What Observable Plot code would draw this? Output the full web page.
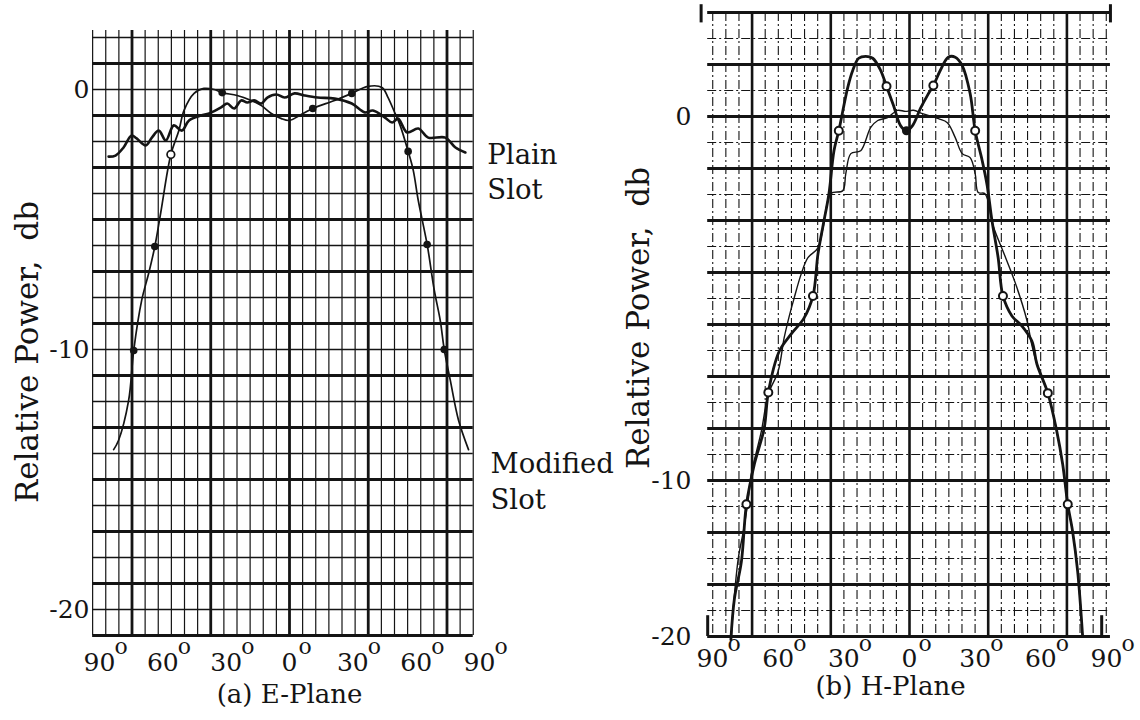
<!DOCTYPE html>
<html>
<head>
<meta charset="utf-8">
<script src="https://cdn.jsdelivr.net/npm/d3@7"></script>
<script src="https://cdn.jsdelivr.net/npm/@observablehq/plot@0.6"></script>
<style>
html,body{margin:0;padding:0;background:#fff;}
#wrap{position:relative;width:1140px;height:720px;overflow:hidden;background:#fff;font-family:"DejaVu Serif",serif;color:#141414;}
#ePanel{position:absolute;left:0;top:0;}
#hPanel{position:absolute;left:620px;top:0;}
.ylab{position:absolute;white-space:pre;font-size:31px;line-height:1;transform:translate(-50%,-50%) rotate(-90deg);}
</style>
</head>
<body>
<div id="wrap">
  <div id="ePanel"></div><div id="hPanel"></div>
  <div id="eYLab" class="ylab" style="left:27px;top:352px"></div>
  <div id="hYLab" class="ylab" style="left:638px;top:318px"></div>
</div>
<script>
// ---------- shared text ----------
const yAxisTitle = "Relative Power,  db";
const xTickValues = [-90, -60, -30, 0, 30, 60, 90];
const xTickLabels = ["90", "60", "30", "0", "30", "60", "90"];
const yTickValues = [0, -10, -20];
const yTickLabels = ["0", "-10", "-20"];
const eCaption = "(a) E-Plane";
const hCaption = "(b) H-Plane";
const seriesLabels = ["Plain\nSlot", "Modified\nSlot"];

// ---------- (a) E-Plane ----------
const ePlainDeg = [-85.7,-82.4,-78.6,-74.8,-72.4,-68.1,-65.2,-61.9,-58.6,-54.8,-51.0,-47.6,-41.9,-38.1,-32.4,-29.5,-26.2,-22.9,-20.0,-16.7,-13.3,-10.5,-6.2,-2.4,2.4,7.1,13.3,21.4,29.5,35.7,39.5,45.2,48.6,51.4,55.7,61.0,65.7,73.8,78.6,83.3];
const ePlainDb  = [-2.58,-2.54,-2.23,-1.77,-1.88,-2.15,-1.85,-1.58,-1.96,-1.38,-1.58,-1.19,-1.00,-0.92,-0.69,-0.54,-0.73,-0.42,-0.50,-0.42,-0.54,-0.31,-0.19,-0.31,-0.15,-0.23,-0.31,-0.35,-0.54,-0.88,-0.81,-1.08,-1.27,-1.12,-1.65,-1.50,-1.85,-1.85,-2.23,-2.42];

const eModDeg = [-83.3,-81.0,-76.2,-73.8,-70.0,-66.7,-63.8,-61.0,-56.2,-52.4,-50.0,-45.2,-40.5,-35.7,-31.9,-24.8,-18.1,-13.3,-8.6,-3.8,0,4.8,11.0,21.4,29.5,37.1,43.8,46.7,50.0,52.4,56.2,58.6,61.0,65.2,68.6,71.4,73.3,76.2,80.0,84.8];
const eModDb  = [-13.85,-13.5,-11.96,-10.04,-8.1,-7.07,-6.04,-4.74,-2.5,-1.58,-0.81,-0.15,0.04,0.0,-0.12,-0.23,-0.42,-0.62,-0.92,-1.12,-1.19,-1.0,-0.73,-0.42,-0.15,0.12,0.08,-0.31,-0.92,-1.38,-2.38,-3.1,-4.27,-5.96,-7.73,-8.88,-10.0,-11.2,-12.7,-13.85];

const eDotDeg = [-73.8,-63.8,-31.9,11.0,29.5,56.2,65.2,73.3];
const eDotDb  = [-10.04,-6.04,-0.12,-0.73,-0.15,-2.38,-5.96,-10.0];
const eOpenDotDeg = [-56.2];
const eOpenDotDb  = [-2.5];

// ---------- (b) H-Plane ----------
const hPlainDeg = [-81.4,-80.5,-78.2,-75.9,-73.6,-72.3,-67.7,-64.5,-60.0,-57.3,-55.5,-52.7,-49.5,-46.4,-41.8,-39.5,-35.9,-30.5,-29.1,-26.8,-22.3,-17.7,-14.5,-10.0,-5.5,-1.8,1.8,5.9,13.2,17.3,20.9,24.1,27.7,30.0,31.4,34.5,38.2,43.2,48.2,53.6,55.9,58.2,63.2,67.3,70.0,72.3,74.5,76.8,79.1];
const hPlainDb  = [-20.0,-18.15,-14.97,-13.25,-11.15,-9.83,-8.65,-7.63,-7.0,-6.09,-5.62,-4.99,-4.33,-3.88,-3.61,-3.06,-2.12,-2.04,-1.57,-1.02,-0.94,-0.30,-0.11,-0.03,0.17,0.14,0.17,0.08,-0.06,-0.17,-0.58,-1.02,-1.13,-1.57,-2.09,-2.12,-3.0,-3.77,-4.55,-5.59,-6.28,-6.80,-7.6,-8.65,-9.56,-11.53,-13.25,-15.8,-20.0];

const hModDeg = [-81.6,-80.0,-76.8,-74.5,-70.9,-66.4,-64.5,-59.5,-54.1,-48.2,-44.1,-41.8,-39.5,-36.8,-34.5,-32.3,-28.2,-25.9,-23.2,-20.0,-16.8,-13.2,-10.5,-7.3,-4.1,-1.4,1.4,5.0,8.2,10.9,14.1,17.7,20.9,24.1,27.7,30.0,33.2,35.5,37.7,40.5,42.7,46.8,51.4,55.9,58.2,63.2,67.3,70.0,72.3,74.5,76.8,79.1];
const hModDb  = [-20.2,-17.6,-15.2,-11.53,-9.56,-8.57,-7.58,-6.45,-5.98,-5.54,-4.93,-3.77,-3.0,-2.12,-0.94,-0.39,0.8,1.27,1.6,1.65,1.6,1.27,0.83,0.3,-0.25,-0.39,-0.25,0.22,0.58,0.85,1.27,1.63,1.63,1.4,0.63,-0.39,-1.21,-1.9,-2.87,-3.88,-4.93,-5.48,-5.76,-6.17,-6.80,-7.6,-8.65,-9.56,-11.53,-13.25,-15.8,-20.0];

const hDotDeg = [-74.5,-64.5,-44.1,-32.3,-10.5,10.9,30.0,42.7,63.2,72.3];
const hDotDb  = [-11.53,-7.58,-4.93,-0.39,0.83,0.85,-0.39,-4.93,-7.6,-11.53];
const hFilledDotDeg = [-1.4];
const hFilledDotDb  = [-0.39];

// ---------- helpers ----------
const FONT = "DejaVu Serif";
const ink = "#141414";
const pts = (xs, ys) => xs.map((x, i) => ({x, y: ys[i]}));

document.getElementById("eYLab").textContent = yAxisTitle;
document.getElementById("hYLab").textContent = yAxisTitle;

// ================= E-Plane panel =================
const eStep = 6.217;                 // graph-paper pitch in degrees
const eVert = d3.range(-15, 15).map(k => ({x: k * eStep, major: k % 6 === 0}));
const eHoriz = d3.range(2, -22, -1).map(v => ({y: v, major: Math.abs(v) % 2 === 1}));
const eLeft = -15 * eStep, eRight = 14 * eStep, eTop = 2.27, eBottom = -21;

const ePlot = Plot.plot({
  width: 620, height: 720,
  marginLeft: 94, marginRight: 146, marginTop: 30, marginBottom: 85,
  x: {domain: [-90, 90], range: [99, 479], axis: null},
  y: {domain: [0, -20], range: [89, 609], axis: null},
  style: {fontFamily: FONT, background: "#fff", color: ink, overflow: "visible"},
  marks: [
    Plot.ruleX(eVert.filter(d => !d.major), {x: "x", y1: eTop, y2: eBottom, stroke: ink, strokeWidth: 1.2}),
    Plot.ruleY(eHoriz.filter(d => !d.major), {y: "y", x1: eLeft, x2: eRight, stroke: ink, strokeWidth: 1.3}),
    Plot.ruleX(eVert.filter(d => d.major), {x: "x", y1: eTop, y2: eBottom, stroke: ink, strokeWidth: 2.8}),
    Plot.ruleY(eHoriz.filter(d => d.major), {y: "y", x1: eLeft, x2: eRight, stroke: ink, strokeWidth: 2.8}),
    Plot.line(pts(ePlainDeg, ePlainDb), {x: "x", y: "y", stroke: ink, strokeWidth: 2.6, curve: "catmull-rom"}),
    Plot.line(pts(eModDeg, eModDb), {x: "x", y: "y", stroke: ink, strokeWidth: 1.7, curve: "catmull-rom"}),
    Plot.dot(pts(eDotDeg, eDotDb), {x: "x", y: "y", r: 3.8, fill: ink}),
    Plot.dot(pts(eOpenDotDeg, eOpenDotDb), {x: "x", y: "y", r: 3.8, fill: "#fff", stroke: ink, strokeWidth: 1.7}),
    Plot.text(yTickValues, {y: d => d, text: (d, i) => yTickLabels[i], frameAnchor: "left", textAnchor: "end", dx: -5, fontSize: 25}),
    Plot.text(xTickValues, {x: d => d, text: (d, i) => xTickLabels[i], frameAnchor: "bottom", dy: 35, fontSize: 25}),
    Plot.text(xTickValues.filter((d, i) => xTickLabels[i].length === 2), {x: d => d, text: () => "o", frameAnchor: "bottom", dy: 18, dx: 15, textAnchor: "start", fontSize: 22}),
    Plot.text(xTickValues.filter((d, i) => xTickLabels[i].length === 1), {x: d => d, text: () => "o", frameAnchor: "bottom", dy: 18, dx: 9, textAnchor: "start", fontSize: 22}),
    Plot.text([eCaption], {x: 0, text: d => d, frameAnchor: "bottom", dy: 67, fontSize: 26}),
    Plot.text([seriesLabels[0]], {x: ePlainDeg[ePlainDeg.length - 1], y: ePlainDb[ePlainDb.length - 1], text: d => d, dx: 22, dy: 18, textAnchor: "start", lineHeight: 1.26, fontSize: 27.5}),
    Plot.text([seriesLabels[1]], {x: eModDeg[eModDeg.length - 1], y: eModDb[eModDb.length - 1], text: d => d, dx: 22, dy: 30, textAnchor: "start", lineHeight: 1.32, fontSize: 27.5})
  ]
});
document.getElementById("ePanel").append(ePlot);

// ================= H-Plane panel =================
// The H-plane db labels sit unevenly on the chart paper: 0 db, -10 db and -20 db
// fall on paper rows 0, -14 and -20. rows() maps db to paper rows.
const hLabelDb = [0, -10, -20];
const hLabelRow = [0, -14, -20];
const rows = d3.scaleLinear().domain(hLabelDb).range(hLabelRow);
const hStep = 5.993;
const hVert = d3.range(-15, 16).map(k => ({x: k * hStep, major: k % 6 === 0}));
const hHoriz = d3.range(4, -21, -1).map(k => ({y: k, major: k % 2 === 0}));
const hLeft = -92.2, hRight = 91.8, hTop = 4, hBottom = -20;

const hPlot = Plot.plot({
  width: 520, height: 720,
  marginLeft: 87, marginRight: 30, marginTop: 12, marginBottom: 84,
  x: {domain: [-90, 90], range: [92, 486], axis: null},
  y: {domain: [0, -20], range: [116, 636], axis: null},
  style: {fontFamily: FONT, background: "#fff", color: ink, overflow: "visible"},
  marks: [
    Plot.ruleX(hVert.filter(d => !d.major), {x: "x", y1: hTop, y2: hBottom, stroke: ink, strokeWidth: 1.1, strokeDasharray: "9,3,2,3"}),
    Plot.ruleY(hHoriz.filter(d => !d.major), {y: "y", x1: hLeft, x2: hRight, stroke: ink, strokeWidth: 1.1, strokeDasharray: "9,3,2,3"}),
    Plot.ruleX(hVert.filter(d => d.major), {x: "x", y1: hTop, y2: hBottom, stroke: ink, strokeWidth: 2.6}),
    Plot.ruleY(hHoriz.filter(d => d.major), {y: "y", x1: hLeft, x2: hRight, stroke: ink, strokeWidth: 2.8}),
    // small end ticks on the chart-paper border
    Plot.ruleX([hLeft - 3, hRight], {y1: 4.3, y2: 3.6, stroke: ink, strokeWidth: 3}),
    Plot.ruleX([hLeft, hRight - 4], {y1: -19.2, y2: -20, stroke: ink, strokeWidth: 3}),
    Plot.line(pts(hPlainDeg, hPlainDb), {x: "x", y: d => rows(d.y), stroke: ink, strokeWidth: 1.4, curve: "catmull-rom"}),
    Plot.line(pts(hModDeg, hModDb), {x: "x", y: d => rows(d.y), stroke: ink, strokeWidth: 2.8, curve: "catmull-rom"}),
    Plot.dot(pts(hDotDeg, hDotDb), {x: "x", y: d => rows(d.y), r: 4, fill: "#fff", stroke: ink, strokeWidth: 2}),
    Plot.dot(pts(hFilledDotDeg, hFilledDotDb), {x: "x", y: d => rows(d.y), r: 4.5, fill: ink}),
    Plot.text(yTickValues, {y: d => rows(d), text: (d, i) => yTickLabels[i], frameAnchor: "left", textAnchor: "end", dx: -16, fontSize: 25}),
    Plot.text(xTickValues, {x: d => d, text: (d, i) => xTickLabels[i], frameAnchor: "bottom", dy: 30, fontSize: 25}),
    Plot.text(xTickValues.filter((d, i) => xTickLabels[i].length === 2), {x: d => d, text: () => "o", frameAnchor: "bottom", dy: 14, dx: 15, textAnchor: "start", fontSize: 22}),
    Plot.text(xTickValues.filter((d, i) => xTickLabels[i].length === 1), {x: d => d, text: () => "o", frameAnchor: "bottom", dy: 14, dx: 9, textAnchor: "start", fontSize: 22}),
    Plot.text([hCaption], {x: 0, text: d => d, frameAnchor: "bottom", dy: 58, dx: -19, fontSize: 26})
  ]
});
document.getElementById("hPanel").append(hPlot);
</script>
</body>
</html>
